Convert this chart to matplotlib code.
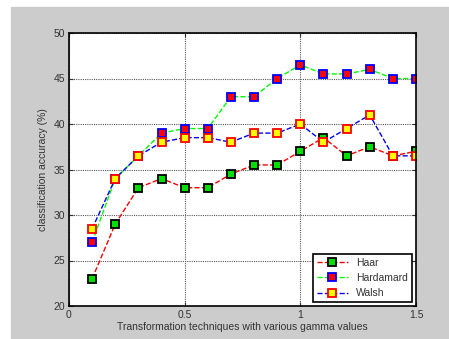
import numpy as np
import matplotlib
matplotlib.use('Agg')
import matplotlib.pyplot as plt
from matplotlib.patches import Rectangle

plt.rcParams['font.family'] = ['Liberation Sans', 'DejaVu Sans']

gamma = [0.1, 0.2, 0.3, 0.4, 0.5, 0.6, 0.7, 0.8, 0.9, 1.0, 1.1, 1.2, 1.3, 1.4, 1.5]
haar = [23, 29, 33, 34, 33, 33, 34.5, 35.5, 35.5, 37, 38.5, 36.5, 37.5, 36.5, 37]
hadamard = [27, 34, 36.5, 39, 39.5, 39.5, 43, 43, 45, 46.5, 45.5, 45.5, 46, 45, 45]
walsh = [28.5, 34, 36.5, 38, 38.5, 38.5, 38, 39, 39, 40, 38, 39.5, 41, 36.5, 36.5]


def main():
    W, H = 449, 339
    fig = plt.figure(figsize=(W / 100, H / 100), dpi=100, facecolor='white')
    # grey window background of the screenshot
    fig.patches.append(Rectangle((11 / W, 0), (W - 11) / W, (H - 7) / H,
                                 transform=fig.transFigure, color='#cccccc', zorder=-10))
    ax = fig.add_axes([69 / W, 1 - 306 / H, (416 - 69) / W, (306 - 33) / H])

    ms = 5.5
    ax.plot(gamma, haar, 'r--', marker='s', mfc='#00e000', mec='k', mew=1.3, ms=ms, lw=1, label='Haar')
    ax.plot(gamma, hadamard, '--', color='#00ff00', marker='s', mfc='red', mec='blue', mew=1.3, ms=ms, lw=1, label='Hardamard')
    ax.plot(gamma, walsh, 'b--', marker='s', mfc='yellow', mec='red', mew=1.3, ms=ms, lw=1, label='Walsh')

    ax.set_xlim(0, 1.5)
    ax.set_ylim(20, 50)
    ax.set_xticks([0, 0.5, 1, 1.5])
    ax.set_xticklabels(['0', '0.5', '1', '1.5'])
    ax.set_yticks([20, 25, 30, 35, 40, 45, 50])
    ax.grid(True, ls=(0, (1, 1)), color='0.35', lw=0.8)
    ax.tick_params(labelsize=7.5, length=3, direction='in', colors='#333333', pad=3)
    ax.tick_params(top=True, right=True)
    for s in ax.spines.values():
        s.set_linewidth(1.2)

    ax.set_xlabel('Transformation techniques with various gamma values', fontsize=7.5, color='#333333', labelpad=1)
    ax.set_ylabel('classification accuracy (%)', fontsize=7.5, color='#333333', labelpad=4)

    leg = ax.legend(loc='lower right', fontsize=7.5, fancybox=False, framealpha=1,
                    edgecolor='k', handlelength=3, borderaxespad=0.35)
    leg.get_frame().set_linewidth(1.2)
    for t in leg.get_texts():
        t.set_color('#333333')

    plt.savefig('out.png', dpi=100, facecolor=fig.get_facecolor())


if __name__ == '__main__':
    main()
